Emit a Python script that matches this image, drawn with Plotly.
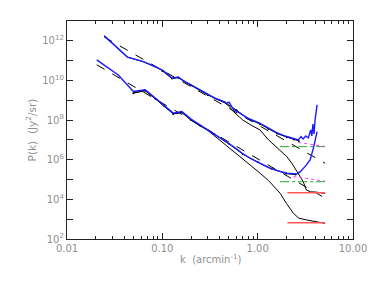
import plotly.graph_objects as go

# ---- data (log10 P values) ----
up_blue_k = [0.0246, 0.043, 0.063, 0.08, 0.102, 0.115, 0.126, 0.147, 0.17, 0.2, 0.249, 0.3, 0.36, 0.42, 0.474, 0.5,
             0.556, 0.65, 0.8, 1.06, 1.3, 1.6, 2.02, 2.4, 2.67, 2.85, 3.0, 3.2, 3.4, 3.6, 3.7, 3.8, 3.9, 4.0, 4.1, 4.2]
up_blue_lp = [12.25, 11.18, 10.95, 10.75, 10.5, 10.3, 10.12, 10.17, 9.95, 9.78, 9.53, 9.3, 9.1, 8.98, 8.85, 8.9,
              8.55, 8.35, 8.08, 7.84, 7.6, 7.35, 7.17, 7.05, 7.0, 7.17, 7.05, 7.2, 7.1, 7.5, 7.2, 7.8, 7.3, 8.0, 8.4, 8.77]

up_black_k = [0.0246, 0.043, 0.063, 0.102, 0.126, 0.147, 0.2, 0.249, 0.36, 0.45, 0.5, 0.556, 0.7, 0.85, 1.06, 1.3,
              1.6, 2.02, 2.3, 2.67, 3.0, 3.24, 3.6, 4.2, 5.1]
up_black_lp = [12.25, 11.18, 10.95, 10.5, 10.12, 10.15, 9.76, 9.5, 9.08, 8.88, 8.7, 8.43, 8.0, 7.75, 7.5, 7.0,
               6.6, 6.16, 5.8, 5.32, 4.9, 4.47, 4.38, 4.36, 4.30]

up_dots_k = [0.1, 0.126, 0.147, 0.2, 0.3, 0.45, 0.6, 0.8, 1.06, 1.3, 1.6, 2.02, 2.4, 2.7]
up_dots_lp = [10.48, 10.1, 10.14, 9.75, 9.27, 8.9, 8.5, 8.05, 7.8, 7.56, 7.32, 7.14, 7.02, 6.95]

lo_blue_k = [0.0205, 0.0345, 0.0497, 0.066, 0.085, 0.105, 0.13, 0.16, 0.2, 0.25, 0.343, 0.45, 0.556, 0.7, 0.85,
             1.06, 1.3, 1.6, 2.02, 2.57, 2.8, 3.2, 3.55, 3.85, 4.0, 4.1, 4.2]
lo_blue_lp = [11.04, 10.28, 9.44, 9.53, 9.1, 8.75, 8.35, 8.43, 8.05, 7.75, 7.34, 6.95, 6.66, 6.3, 6.05,
              5.82, 5.6, 5.45, 5.32, 5.28, 5.4, 5.7, 5.99, 6.6, 7.0, 7.2, 7.42]

lo_black_k = [0.0497, 0.066, 0.085, 0.105, 0.13, 0.16, 0.2, 0.25, 0.3, 0.343, 0.45, 0.556, 0.7, 0.85, 1.06, 1.3,
              1.72, 2.0, 2.37, 2.7, 3.27, 4.0, 5.1]
lo_black_lp = [9.38, 9.5, 9.08, 8.72, 8.33, 8.4, 8.0, 7.7, 7.48, 7.25, 6.8, 6.45, 6.05, 5.7, 5.32, 4.95,
               4.31, 3.8, 3.30, 3.05, 2.96, 2.87, 2.79]

lo_dots_k = [0.0497, 0.066, 0.085, 0.105, 0.13, 0.16, 0.2, 0.25, 0.35, 0.5, 0.7, 1.0, 1.4, 2.0, 2.5]
lo_dots_lp = [9.36, 9.48, 9.06, 8.7, 8.31, 8.38, 8.0, 7.72, 7.3, 6.8, 6.28, 5.88, 5.55, 5.3, 5.25]

dash_up_k = [0.0246, 5.1]
dash_up_lp = [12.19, 5.82]
dash_lo_k = [0.0205, 5.1]
dash_lo_lp = [10.79, 4.06]

green_k = [1.72, 5.1]
green_up_lp = [6.66, 6.66]
green_lo_lp = [4.89, 4.89]

mag_up_k = [2.67, 5.1]
mag_up_lp = [6.87, 6.67]
mag_lo_k = [2.37, 5.1]
mag_lo_lp = [5.15, 4.92]

red_k = [2.05, 5.1]
red_up_lp = [4.34, 4.34]
red_lo_lp = [2.82, 2.82]

x_tickvals = [0.01, 0.1, 1, 10]
x_ticktext = ["0.01", "0.10", "1.00", "10.00"]
y_exps = [2, 4, 6, 8, 10, 12]
x_title = "k  (arcmin<sup>-1</sup>)"
y_title = "P(k)  (Jy<sup>2</sup>/sr)"


def P(lp):
    return [10 ** v for v in lp]


fig = go.Figure()


def add(k, lp, color, width=1.3, dash="solid", mode="lines", marker=None):
    fig.add_trace(go.Scatter(x=k, y=P(lp), mode=mode, line=dict(color=color, width=width, dash=dash),
                             marker=marker, showlegend=False, hoverinfo="skip"))


add(dash_up_k, dash_up_lp, "black", 1.0, "dash")
add(dash_lo_k, dash_lo_lp, "black", 1.0, "dash")
add(up_black_k, up_black_lp, "black", 1.0)
add(lo_black_k, lo_black_lp, "black", 1.0)
add(up_dots_k, up_dots_lp, "black", 1.0, mode="lines+markers", marker=dict(size=2, color="black"))
add(lo_dots_k, lo_dots_lp, "black", 1.0, mode="lines+markers", marker=dict(size=2, color="black"))
add(green_k, green_up_lp, "#22aa22", 1.0, "dashdot")
add(green_k, green_lo_lp, "#22aa22", 1.0, "dashdot")
add(mag_up_k, mag_up_lp, "#ff44ff", 1.0, "dot")
add(mag_lo_k, mag_lo_lp, "#ff44ff", 1.0, "dot")
add(red_k, red_up_lp, "#ff5555", 1.5)
add(red_k, red_lo_lp, "#ff5555", 1.5)
add(up_blue_k, up_blue_lp, "#1a1aff", 1.4)
add(lo_blue_k, lo_blue_lp, "#1a1aff", 1.4)

minor_x = [m * 10 ** e for e in (-2, -1, 0) for m in range(2, 10)]
minor_y = [10 ** e for e in range(3, 13, 2)]

fig.update_layout(
    width=374, height=283,
    margin=dict(l=67, r=21, t=21, b=44),
    paper_bgcolor="white", plot_bgcolor="white",
    font=dict(family="DejaVu Sans", size=10, color="#909090"),
    annotations=[
        dict(text=x_title, xref="paper", yref="paper", x=0.5, y=-0.055, xanchor="center", yanchor="top",
             showarrow=False, font=dict(size=10, color="#909090")),
        dict(text=y_title, xref="paper", yref="paper", x=-0.128, y=0.5, xanchor="center", yanchor="middle",
             textangle=-90, showarrow=False, font=dict(size=10.5, color="#909090")),
    ],
)
fig.update_xaxes(
    type="log", range=[-2, 1], showgrid=False, zeroline=False, automargin=False,
    showline=True, linecolor="#222222", linewidth=1.2, mirror="ticks",
    ticks="inside", ticklen=6, tickcolor="#222222",
    tickvals=x_tickvals, ticktext=x_ticktext,
    minor=dict(ticks="inside", ticklen=3, tickcolor="#222222", tickvals=minor_x, showgrid=False),
)
fig.update_yaxes(
    type="log", range=[2, 13], showgrid=False, zeroline=False, automargin=False,
    showline=True, linecolor="#222222", linewidth=1.2, mirror="ticks",
    ticks="inside", ticklen=6, tickcolor="#222222",
    tickvals=[10 ** e for e in y_exps], ticktext=["10<sup>%d</sup>" % e for e in y_exps],
    minor=dict(ticks="inside", ticklen=6, tickcolor="#222222", tickvals=minor_y, showgrid=False),
)

fig.write_html("out.html", config={"displayModeBar": False},
               post_script="document.body.style.margin='0';document.body.style.overflow='hidden';")
